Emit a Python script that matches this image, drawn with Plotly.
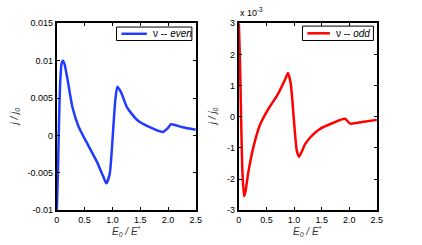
import plotly.graph_objects as go

# ---- data ----
x_even = [0.0, 0.02, 0.04, 0.06, 0.085, 0.11, 0.14, 0.19, 0.28, 0.39, 0.57, 0.72, 0.83, 0.89,
          0.95, 1.01, 1.05, 1.09, 1.16, 1.26, 1.44, 1.67, 1.91, 2.0, 2.05, 2.26, 2.5]
y_even = [-0.010, -0.005, 0.002, 0.007, 0.0096, 0.0100, 0.0095, 0.0076, 0.0038, 0.0012, -0.0014,
          -0.0035, -0.0054, -0.0064, -0.0052, 0.00035, 0.0046, 0.0065, 0.0057, 0.0038, 0.0021,
          0.0011, 0.00047, 0.0010, 0.0015, 0.0011, 0.00077]

x_odd = [0.0, 0.02, 0.04, 0.065, 0.095, 0.12, 0.17, 0.26, 0.38, 0.53, 0.70, 0.84, 0.89, 0.94,
         1.0, 1.05, 1.09, 1.2, 1.3, 1.46, 1.70, 1.92, 2.02, 2.23, 2.5]
y_odd_e3 = [3.0, 1.8, 0.0, -1.8, -2.55, -2.4, -1.8, -1.0, -0.27, 0.24, 0.7, 1.2, 1.4, 1.06,
            -0.17, -1.09, -1.28, -0.88, -0.65, -0.40, -0.2, -0.065, -0.22, -0.17, -0.1]

x_tickvals = [0, 0.5, 1.0, 1.5, 2.0, 2.5]
x_ticktext = ["0", "0.5", "1.0", "1.5", "2.0", "2.5"]
y1_tickvals = [-0.01, -0.005, 0, 0.005, 0.01, 0.015]
y1_ticktext = ["-0.01", "-0.005", "0", "0.005", "0.01", "0.015"]
y2_tickvals = [-3, -2, -1, 0, 1, 2, 3]
y2_ticktext = ["-3", "-2", "-1", "0", "1", "2", "3"]

names = ["\u03bd -- <i>even</i>", "\u03bd -- <i>odd</i>"]
colors = ["#1f3cff", "#ff0000"]

FONT = "Liberation Sans, Arial, sans-serif"
W, H = 422, 245


def px(v):
    return v / W


def py(v):
    return 1 - v / H


fig = go.Figure()
fig.add_trace(go.Scatter(x=x_even, y=y_even, mode="lines", name=names[0], showlegend=False,
                         line=dict(color=colors[0], width=2.5, shape="spline", smoothing=0.6),
                         xaxis="x", yaxis="y"))
fig.add_trace(go.Scatter(x=x_odd, y=y_odd_e3, mode="lines", name=names[1], showlegend=False,
                         line=dict(color=colors[1], width=2.5, shape="spline", smoothing=0.6),
                         xaxis="x2", yaxis="y2"))

axis_common = dict(showline=True, linecolor="black", linewidth=2, mirror="ticks",
                   ticks="inside", ticklen=3, tickwidth=1, tickcolor="black",
                   showgrid=False, zeroline=False, tickfont=dict(size=9, color="black", family=FONT))

xtitle = "<i>E<sub>0</sub> / E<sup>*</sup></i>"
ytitle = "<i>j / j<sub>0</sub></i>"

# plot frames in px
L1, R1, L2, R2, T, B = 55, 197, 241, 382, 19, 214

annotations = [
    dict(text="x 10<sup>-3</sup>", x=px(240), y=py(16), xanchor="left", yanchor="bottom"),
    dict(text=xtitle, x=px((L1 + R1) / 2), y=py(236), xanchor="center", yanchor="middle",
         font=dict(size=10, color="#333", family=FONT)),
    dict(text=xtitle, x=px((L2 + R2) / 2), y=py(236), xanchor="center", yanchor="middle",
         font=dict(size=10, color="#333", family=FONT)),
    dict(text=ytitle, x=px(12), y=py((T + B) / 2), xanchor="center", yanchor="middle", textangle=-90,
         font=dict(size=10, color="#333", family=FONT)),
    dict(text=ytitle, x=px(214), y=py((T + B) / 2), xanchor="center", yanchor="middle", textangle=-90,
         font=dict(size=10, color="#333", family=FONT)),
    dict(text=names[0], x=px(151), y=py(30), xanchor="left", yanchor="middle",
         font=dict(size=10, color="black", family=FONT)),
    dict(text=names[1], x=px(338), y=py(29.5), xanchor="left", yanchor="middle",
         font=dict(size=10, color="black", family=FONT)),
]
for a in annotations:
    a.setdefault("font", dict(size=9, color="black", family=FONT))
    a.update(xref="paper", yref="paper", showarrow=False)

shapes = [
    dict(type="rect", x0=px(116), x1=px(193), y0=py(37), y1=py(23),
         line=dict(color="black", width=1), fillcolor="white"),
    dict(type="line", x0=px(121), x1=px(147), y0=py(30), y1=py(30),
         line=dict(color=colors[0], width=2.5)),
    dict(type="rect", x0=px(306), x1=px(378.5), y0=py(37), y1=py(22),
         line=dict(color="black", width=1), fillcolor="white"),
    dict(type="line", x0=px(311), x1=px(334), y0=py(29.5), y1=py(29.5),
         line=dict(color=colors[1], width=2.5)),
]
for s in shapes:
    s.update(xref="paper", yref="paper", layer="above")

fig.update_layout(
    width=W, height=H, autosize=False,
    margin=dict(l=0, r=0, t=0, b=0),
    paper_bgcolor="white", plot_bgcolor="white",
    font=dict(family=FONT, size=9, color="black"),
    showlegend=False,
    hovermode=False,
    xaxis=dict(domain=[px(L1), px(R1)], range=[0, 2.5], tickmode="array",
               tickvals=x_tickvals, ticktext=x_ticktext, anchor="y", **axis_common),
    yaxis=dict(domain=[py(B), py(T)], range=[-0.01, 0.015], tickmode="array",
               tickvals=y1_tickvals, ticktext=y1_ticktext, anchor="x", **axis_common),
    xaxis2=dict(domain=[px(L2), px(R2)], range=[0, 2.5], tickmode="array",
                tickvals=x_tickvals, ticktext=x_ticktext, anchor="y2", **axis_common),
    yaxis2=dict(domain=[py(B), py(T)], range=[-3, 3], tickmode="array",
                tickvals=y2_tickvals, ticktext=y2_ticktext, anchor="x2", **axis_common),
    annotations=annotations,
    shapes=shapes,
)

fig.write_html("out.html",
               config={"displayModeBar": False, "staticPlot": True},
               post_script="document.body.style.margin='0';document.body.style.padding='0';"
                           "document.documentElement.style.overflow='hidden';")
